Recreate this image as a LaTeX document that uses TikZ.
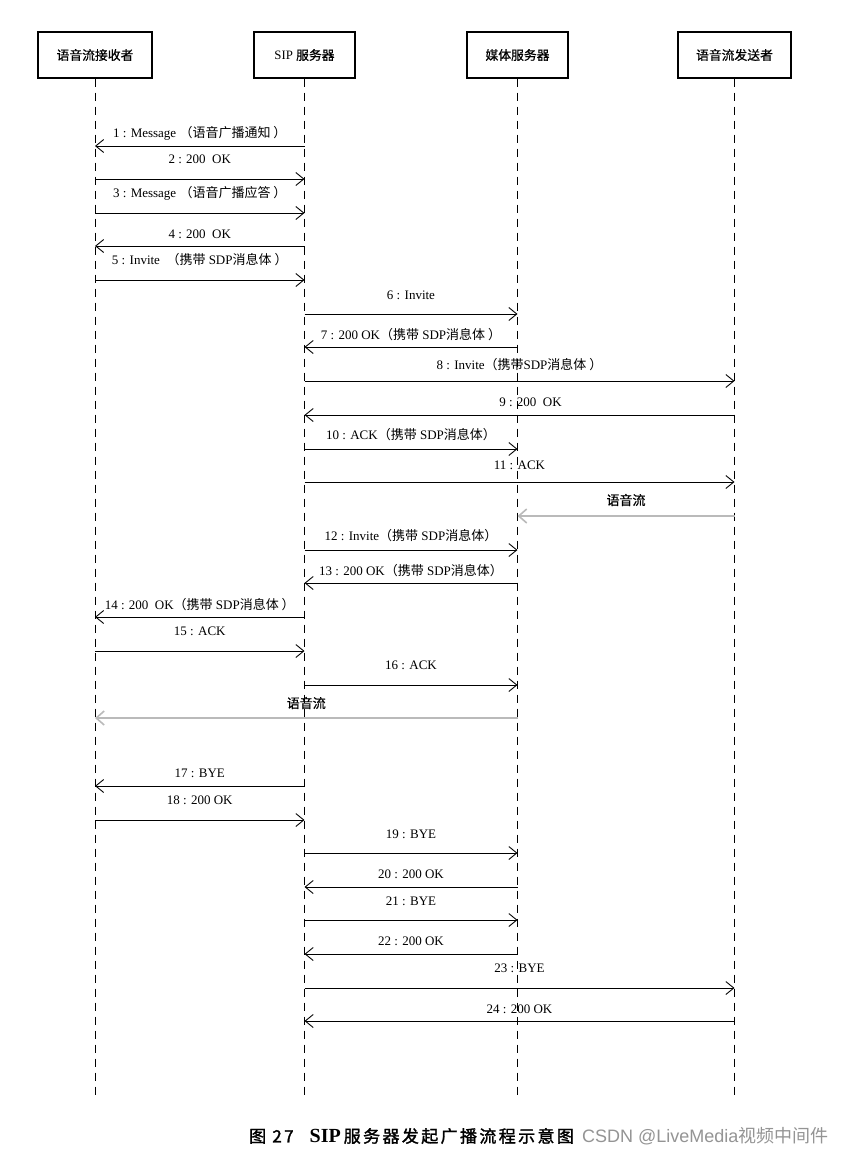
\documentclass[tikz,border=0pt]{standalone}
\usepackage{fontspec}
\setmainfont{Liberation Serif}
\newfontfamily\cjk{Noto Sans CJK SC}
\newfontfamily\cjkhead[FakeBold=0.6]{Noto Sans CJK SC}
\newfontfamily\cjkbold[FakeBold=1.6,LetterSpace=14]{Noto Sans CJK SC}
\newfontfamily\wmfont{Liberation Sans}
\usetikzlibrary{arrows.meta}
\newcommand{\zh}[1]{{\cjk #1}}
\newcommand{\zhh}[1]{{\cjkhead #1}}
\newcommand{\msg}[6][]{\draw[msgarrow,#1] (#2 |- 0,#4) -- node[lbl,yshift=#6pt]{#5} (#3 |- 0,#4);}
\begin{document}
\begin{tikzpicture}[x=1pt,y=-1pt,
  actor/.style={draw, line width=1.4pt, minimum height=46pt, inner sep=0pt, font=\fontsize{12.8}{14}\selectfont},
  life/.style={line width=0.8pt, dash pattern=on 8pt off 6pt},
  msgarrow/.style={line width=0.9pt, -{Straight Barb[length=8pt,width=13pt,line width=0.9pt]}},
  flow/.style={line width=2.4pt, draw=black!27, -{Straight Barb[length=8pt,width=14pt,line width=1.6pt]}},
  lbl/.style={font=\fontsize{13}{15}\selectfont, inner sep=0pt, text=black}]
\useasboundingbox (0,0) rectangle (846,1156);
\fill[white] (0,0) rectangle (846,1156);

\node[actor, minimum width=114pt] (r) at (95,55) {\zhh{语音流接收者}};
\node[actor, minimum width=101pt] (s) at (304.5,55) {SIP \zhh{服务器}};
\node[actor, minimum width=101pt] (m) at (517.5,55) {\zhh{媒体服务器}};
\node[actor, minimum width=113pt] (t) at (734.5,55) {\zhh{语音流发送者}};

\foreach \n in {r,s,m,t}{
  \draw[life] (\n.south) -- (\n.south |- 0,1095);
}

\msg{s}{r}{146}{1 : Message \zh{（语音广播通知 ）}}{13}
\msg{r}{s}{179}{2 : 200\ \ OK}{20}
\msg{r}{s}{213}{3 : Message \zh{（语音广播应答 ）}}{20}
\msg{s}{r}{246}{4 : 200\ \ OK}{12}
\msg{r}{s}{280}{5 : Invite\ \ \zh{（携带} SDP\zh{消息体 ）}}{20}
\msg{s}{m}{314}{6 : Invite}{19}
\msg{m}{s}{347}{7 : 200 OK\zh{（携带} SDP\zh{消息体 ）}}{12}
\msg{s}{t}{381}{8 : Invite\zh{（携带}SDP\zh{消息体 ）}}{16}
\msg[]{t}{s}{415}{\hspace{22pt}9 : 200\ \ OK}{13}
\msg{s}{m}{449}{10 : ACK\zh{（携带} SDP\zh{消息体）}}{14}
\msg{s}{t}{482}{11 : ACK}{17}
\draw[flow] (t |- 0,516) -- node[lbl,yshift=16pt]{\zhh{语音流}} (m |- 0,516);
\msg{s}{m}{550}{12 : Invite\zh{（携带} SDP\zh{消息体）}}{14}
\msg{m}{s}{583}{13 : 200 OK\zh{（携带} SDP\zh{消息体）}}{12}
\msg{s}{r}{617}{14 : 200\ \ OK\zh{（携带} SDP\zh{消息体 ）}}{12}
\msg{r}{s}{651}{15 : ACK}{20}
\msg{s}{m}{685}{16 : ACK}{20}
\draw[flow] (m |- 0,718) -- node[lbl,yshift=15pt]{\zhh{语音流}} (r |- 0,718);
\msg{s}{r}{786}{17 : BYE}{13}
\msg{r}{s}{820}{18 : 200 OK}{20}
\msg{s}{m}{853}{19 : BYE}{19}
\msg{m}{s}{887}{20 : 200 OK}{13}
\msg{s}{m}{920}{21 : BYE}{19}
\msg{m}{s}{954}{22 : 200 OK}{13}
\msg{s}{t}{988}{23 : BYE}{20}
\msg{t}{s}{1021}{24 : 200 OK}{12}

\node[anchor=west, inner sep=0pt, font=\fontsize{17}{19}\selectfont] (cap) at (249,1136)
  {{\cjkbold 图 27}\hspace{16pt}{\fontsize{20}{20}\selectfont\bfseries SIP}\hspace{3pt}{\cjkbold 服务器发起广播流程示意图}};
\node[anchor=west, inner sep=0pt, text=black!42, font=\fontsize{18}{20}\selectfont] (wm) at (582,1136)
  {{\wmfont CSDN @LiveMedia}{\cjk 视频中间件}};
\end{tikzpicture}
\end{document}
